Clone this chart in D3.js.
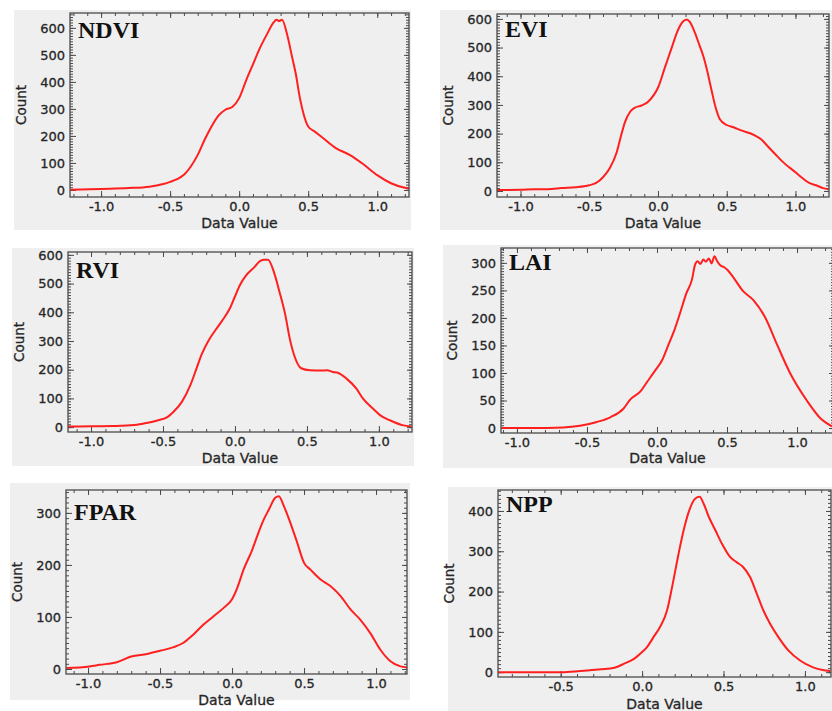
<!DOCTYPE html>
<html>
<head>
<meta charset="utf-8">
<script src="https://cdn.jsdelivr.net/npm/d3@7"></script>
<style>
  body { margin: 0; background: #fff; }
  svg { display: block; }
</style>
</head>
<body>
<svg id="chart" width="832" height="711"></svg>
<script>
// histogram curves (data value -> pixel count)
const ndviValue = [-1.22,-1.0,-0.8,-0.65,-0.55,-0.5,-0.45,-0.4,-0.35,-0.3,-0.25,-0.2,-0.15,-0.1,-0.05,0.0,0.05,0.1,0.15,0.2,0.25,0.27,0.29,0.31,0.35,0.38,0.41,0.44,0.47,0.5,0.55,0.6,0.7,0.8,0.9,1.0,1.1,1.2,1.24];
const ndviCount = [1,4,7,12,22,30,40,56,87,130,186,235,275,297,307,340,405,465,525,575,620,630,625,630,570,500,430,340,275,235,215,195,155,130,95,55,25,8,4];

const eviValue = [-1.17,-1.0,-0.9,-0.8,-0.7,-0.6,-0.5,-0.45,-0.4,-0.35,-0.3,-0.27,-0.24,-0.2,-0.17,-0.12,-0.07,-0.03,0.0,0.05,0.1,0.14,0.18,0.21,0.23,0.27,0.3,0.33,0.36,0.39,0.42,0.45,0.5,0.55,0.6,0.7,0.75,0.8,0.85,0.9,1.0,1.05,1.1,1.15,1.2,1.24];
const eviCount = [3,4,6,6,10,13,20,28,48,80,135,190,240,278,290,298,312,335,360,430,500,555,590,598,590,550,510,470,415,350,290,250,230,222,212,195,180,155,130,105,65,45,28,20,10,6];

const rviValue = [-1.16,-1.0,-0.85,-0.7,-0.64,-0.54,-0.47,-0.43,-0.37,-0.31,-0.27,-0.23,-0.185,-0.14,-0.09,-0.035,0.0,0.035,0.08,0.14,0.17,0.2,0.23,0.27,0.31,0.35,0.38,0.415,0.46,0.52,0.6,0.64,0.68,0.71,0.775,0.844,0.89,0.96,1.01,1.08,1.17,1.225];
const rviCount = [2,3,4,7,12,23,35,52,87,146,200,255,300,335,370,414,455,495,530,560,577,583,583,541,470,390,310,245,205,198,197,198,192,190,169,134,99,64,41,23,6,2];

const laiValue = [-1.11,-0.9,-0.67,-0.55,-0.43,-0.33,-0.24,-0.19,-0.12,-0.07,-0.02,0.04,0.08,0.12,0.16,0.21,0.25,0.27,0.29,0.31,0.33,0.35,0.37,0.39,0.41,0.43,0.45,0.48,0.5,0.55,0.61,0.69,0.77,0.86,0.95,1.07,1.17,1.25];
const laiCount = [0,0,1,4,11,20,35,52,66,84,102,125,150,175,205,245,270,295,303,298,306,302,308,299,312,303,296,292,288,272,250,232,202,150,100,50,17,3];

const fparValue = [-1.15,-0.99,-0.92,-0.8,-0.7,-0.59,-0.5,-0.405,-0.34,-0.27,-0.2,-0.13,-0.06,0.0,0.035,0.08,0.14,0.174,0.22,0.255,0.3,0.325,0.36,0.405,0.45,0.5,0.545,0.615,0.685,0.754,0.824,0.89,0.96,1.03,1.1,1.17,1.215];
const fparCount = [2,5,8,13,24,29,35,42,50,66,85,101,117,134,155,191,229,255,287,306,329,332,313,281,245,204,191,172,159,140,114,95,69,37,15,5,3];

const nppValue = [-0.885,-0.48,-0.34,-0.255,-0.17,-0.11,-0.05,0.0,0.03,0.07,0.11,0.153,0.184,0.224,0.255,0.29,0.327,0.353,0.378,0.41,0.45,0.49,0.54,0.58,0.62,0.663,0.704,0.745,0.786,0.837,0.898,0.97,1.05,1.13,1.157];
const nppCount = [0,0,4,7,11,21,33,50,62,87,112,153,211,294,352,402,431,435,418,385,352,319,286,273,261,236,195,153,120,87,54,29,12,4,2];

// tick labels
const xTicksFull = [-1.0, -0.5, 0.0, 0.5, 1.0];
const xTicksNpp = [-0.5, 0.0, 0.5, 1.0];
const yTicks600 = [0, 100, 200, 300, 400, 500, 600];
const yTicksLai = [0, 50, 100, 150, 200, 250, 300];
const yTicksFpar = [0, 100, 200, 300];
const yTicksNpp = [0, 100, 200, 300, 400];

// layout: bg = [x, y, w, h], box = [left, top, right, bottom]
const panels = [
  { name: "NDVI", xs: ndviValue, ys: ndviCount, bg: [14, 10, 397, 220], box: [70, 13, 409, 197],
    xDom: [-1.225, 1.23], yDom: [-26, 655], xTicks: xTicksFull, yTicks: yTicks600, yMinor: 10, titleDy: 25, labelDy: 31 },
  { name: "EVI", xs: eviValue, ys: eviCount, bg: [440, 10, 400, 220], box: [497, 14, 829, 197],
    xDom: [-1.171, 1.244], yDom: [-21, 617], xTicks: xTicksFull, yTicks: yTicks600, yMinor: 10, titleDy: 23, labelDy: 31 },
  { name: "RVI", xs: rviValue, ys: rviCount, bg: [12, 248, 402, 218], box: [68, 252, 412, 432],
    xDom: [-1.16, 1.23], yDom: [-17, 610], xTicks: xTicksFull, yTicks: yTicks600, yMinor: 10, titleDy: 26, labelDy: 31 },
  { name: "LAI", xs: laiValue, ys: laiCount, bg: [443, 245, 400, 223], box: [501, 248, 834, 433],
    xDom: [-1.114, 1.264], yDom: [-9, 327], xTicks: xTicksFull, yTicks: yTicksLai, yMinor: 5, titleDy: 22, labelDy: 30 },
  { name: "FPAR", xs: fparValue, ys: fparCount, bg: [10, 483, 400, 217], box: [66, 490, 407, 674],
    xDom: [-1.153, 1.215], yDom: [-9.6, 344], xTicks: xTicksFull, yTicks: yTicksFpar, yMinor: 10, titleDy: 30, labelDy: 31 },
  { name: "NPP", xs: nppValue, ys: nppCount, bg: [448, 487, 400, 230], box: [498, 490, 831, 677],
    xDom: [-0.885, 1.16], yDom: [-12, 452], xTicks: xTicksNpp, yTicks: yTicksNpp, yMinor: 10, titleDy: 22, labelDy: 32 }
];

const svg = d3.select("#chart");
const frameColor = "#4a4a4a";
const textColor = "#262626";
const textFont = "'DejaVu Sans', Verdana, sans-serif";

function styleAxis(sel) {
  sel.select(".domain").remove();
  sel.selectAll(".tick line").attr("stroke", frameColor).attr("stroke-width", 1);
  sel.attr("font-family", textFont).attr("font-size", 13);
  sel.selectAll(".tick text")
    .attr("fill", textColor)
    .attr("stroke", textColor).attr("stroke-width", 0.3);
}

panels.forEach((p, i) => {
  const [l, t, r, b] = p.box;
  const g = svg.append("g");

  g.append("rect")
    .attr("x", p.bg[0]).attr("y", p.bg[1])
    .attr("width", p.bg[2]).attr("height", p.bg[3])
    .attr("fill", "#efefef");

  const x = d3.scaleLinear().domain(p.xDom).range([l, r]);
  const y = d3.scaleLinear().domain(p.yDom).range([b, t]);

  const xMinor = d3.range(-1.2, 1.3, 0.1).map(v => +v.toFixed(1)).filter(v => v >= p.xDom[0] && v <= p.xDom[1]);
  const yMinor = d3.range(0, p.yDom[1], p.yMinor);

  // minor ticks on all four sides
  g.append("g").attr("transform", `translate(0,${b})`)
    .call(d3.axisBottom(x).tickValues(xMinor).tickSize(-3).tickFormat("")).call(styleAxis);
  g.append("g").attr("transform", `translate(0,${t})`)
    .call(d3.axisTop(x).tickValues(xMinor).tickSize(-3).tickFormat("")).call(styleAxis);
  g.append("g").attr("transform", `translate(${l},0)`)
    .call(d3.axisLeft(y).tickValues(yMinor).tickSize(-3).tickFormat("")).call(styleAxis);
  g.append("g").attr("transform", `translate(${r},0)`)
    .call(d3.axisRight(y).tickValues(yMinor).tickSize(-3).tickFormat("")).call(styleAxis);

  // major ticks with labels
  g.append("g").attr("transform", `translate(0,${b})`)
    .call(d3.axisBottom(x).tickValues(p.xTicks).tickSize(-6).tickPadding(5).tickFormat(d => d.toFixed(1)))
    .call(styleAxis);
  g.append("g").attr("transform", `translate(${l},0)`)
    .call(d3.axisLeft(y).tickValues(p.yTicks).tickSize(-6).tickPadding(5))
    .call(styleAxis);
  g.append("g").attr("transform", `translate(0,${t})`)
    .call(d3.axisTop(x).tickValues(p.xTicks).tickSize(-5).tickFormat("")).call(styleAxis);
  g.append("g").attr("transform", `translate(${r},0)`)
    .call(d3.axisRight(y).tickValues(p.yTicks).tickSize(-5).tickFormat("")).call(styleAxis);

  // curve
  const clipId = "clip" + i;
  g.append("clipPath").attr("id", clipId)
    .append("rect").attr("x", l).attr("y", t).attr("width", r - l).attr("height", b - t);

  const line = d3.line()
    .x((d, k) => x(p.xs[k]))
    .y(d => y(d))
    .curve(d3.curveMonotoneX);

  g.append("path")
    .datum(p.ys)
    .attr("clip-path", `url(#${clipId})`)
    .attr("fill", "none")
    .attr("stroke", "#ff1f1f")
    .attr("stroke-width", 2)
    .attr("stroke-linejoin", "round")
    .attr("d", line);

  // frame
  g.append("rect")
    .attr("x", l).attr("y", t).attr("width", r - l).attr("height", b - t)
    .attr("fill", "none").attr("stroke", frameColor).attr("stroke-width", 1.3);

  // titles and labels
  g.append("text")
    .attr("x", l + 8).attr("y", t + p.titleDy)
    .attr("font-family", "'Liberation Serif', 'Times New Roman', serif")
    .attr("font-weight", "bold").attr("font-size", 24)
    .attr("fill", "#111")
    .text(p.name);

  g.append("text")
    .attr("transform", `translate(${l - 44},${(t + b) / 2}) rotate(-90)`)
    .attr("text-anchor", "middle")
    .attr("font-family", textFont).attr("font-size", 13.5)
    .attr("fill", textColor).attr("stroke", textColor).attr("stroke-width", 0.3)
    .text("Count");

  g.append("text")
    .attr("x", (l + r) / 2).attr("y", b + p.labelDy)
    .attr("text-anchor", "middle")
    .attr("font-family", textFont).attr("font-size", 14)
    .attr("fill", textColor).attr("stroke", textColor).attr("stroke-width", 0.3)
    .text("Data Value");
});
</script>
</body>
</html>
